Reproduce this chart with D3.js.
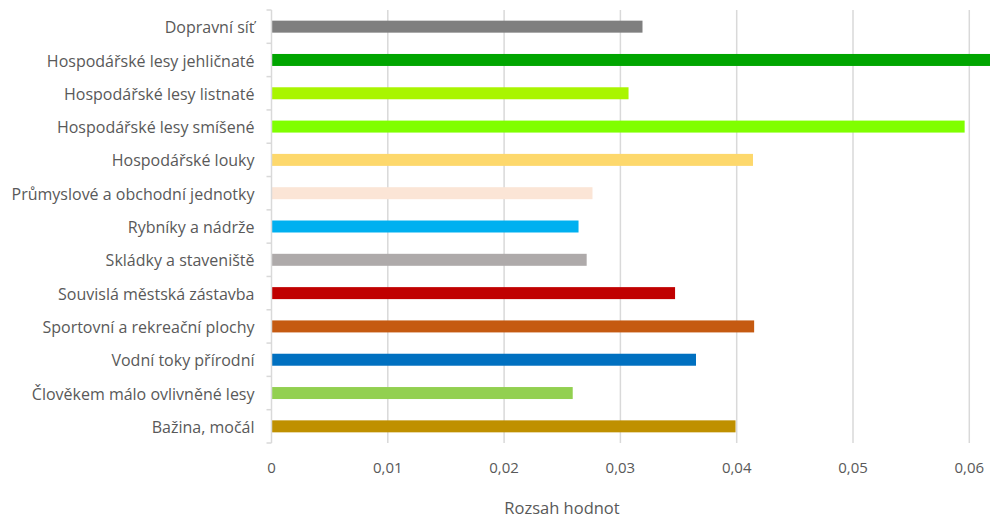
<!DOCTYPE html>
<html>
<head>
<meta charset="utf-8">
<script src="https://cdn.jsdelivr.net/npm/d3@7"></script>
<style>
  body { margin: 0; background: #fff; }
  svg { display: block; font-family: "Open Sans", "Noto Sans", sans-serif; }
</style>
</head>
<body>
<div id="chart"></div>
<script>
var categories = [
  'Dopravní síť',
  'Hospodářské lesy jehličnaté',
  'Hospodářské lesy listnaté',
  'Hospodářské lesy smíšené',
  'Hospodářské louky',
  'Průmyslové a obchodní jednotky',
  'Rybníky a nádrže',
  'Skládky a staveniště',
  'Souvislá městská zástavba',
  'Sportovní a rekreační plochy',
  'Vodní toky přírodní',
  'Člověkem málo ovlivněné lesy',
  'Bažina, močál'
];
var values = [0.0319, 0.0645, 0.0307, 0.0596, 0.0414, 0.0276, 0.0264, 0.0271, 0.0347, 0.0415, 0.0365, 0.0259, 0.0399];
var colors = ['#7f7f7f', '#00a500', '#a9f500', '#80ff00', '#fdd86c', '#fbe5d6', '#00b0f0', '#aeaaaa', '#c00000', '#c55a11', '#0070c0', '#92d050', '#bf9000'];
var tickValues = [0, 0.01, 0.02, 0.03, 0.04, 0.05, 0.06];
var axisTitle = 'Rozsah hodnot';

var width = 990, height = 518;
var plotLeft = 271.5, plotTop = 10, plotBottom = 443;

var svg = d3.select('#chart').append('svg')
  .attr('width', width)
  .attr('height', height);

var x = d3.scaleLinear()
  .domain([0, 0.07])
  .range([plotLeft, plotLeft + 116.3 * 7]);

var y = d3.scaleBand()
  .domain(categories)
  .range([plotTop, plotBottom])
  .paddingInner(0.64)
  .paddingOuter(0.32);

// gridlines
svg.append('g')
  .selectAll('line')
  .data(tickValues.slice(1))
  .enter()
  .append('line')
  .attr('x1', d => x(d)).attr('x2', d => x(d))
  .attr('y1', plotTop).attr('y2', plotBottom)
  .attr('stroke', '#d9d9d9')
  .attr('stroke-width', 1.5);

// bars
svg.append('g')
  .selectAll('rect')
  .data(values)
  .enter()
  .append('rect')
  .attr('x', x(0))
  .attr('y', (d, i) => y(categories[i]))
  .attr('width', d => Math.min(x(d), width) - x(0))
  .attr('height', y.bandwidth())
  .attr('fill', (d, i) => colors[i]);

// category axis
var step = y.step();
var yAxis = svg.append('g');
yAxis.append('line')
  .attr('x1', plotLeft).attr('x2', plotLeft)
  .attr('y1', plotTop).attr('y2', plotBottom)
  .attr('stroke', '#d9d9d9')
  .attr('stroke-width', 1.5);
yAxis.selectAll('.tk')
  .data(d3.range(categories.length + 1))
  .enter()
  .append('line')
  .attr('x1', plotLeft - 5).attr('x2', plotLeft)
  .attr('y1', i => plotTop + i * step).attr('y2', i => plotTop + i * step)
  .attr('stroke', '#d9d9d9')
  .attr('stroke-width', 1.5);
yAxis.selectAll('text')
  .data(categories)
  .enter()
  .append('text')
  .attr('x', plotLeft - 17)
  .attr('y', d => y(d) + y.bandwidth() / 2 + 1)
  .attr('dy', '0.35em')
  .attr('text-anchor', 'end')
  .attr('fill', '#595959')
  .style('font-size', '16px')
  .text(d => d);

// value axis labels
svg.append('g')
  .selectAll('text')
  .data(tickValues)
  .enter()
  .append('text')
  .attr('x', d => x(d))
  .attr('y', 473)
  .attr('text-anchor', 'middle')
  .attr('fill', '#595959')
  .style('font-size', '15px')
  .text(d => d === 0 ? '0' : d3.format('.2f')(d).replace('.', ','));

svg.append('text')
  .attr('x', 562)
  .attr('y', 514)
  .attr('text-anchor', 'middle')
  .attr('fill', '#595959')
  .style('font-size', '16.5px')
  .text(axisTitle);
</script>
</body>
</html>
